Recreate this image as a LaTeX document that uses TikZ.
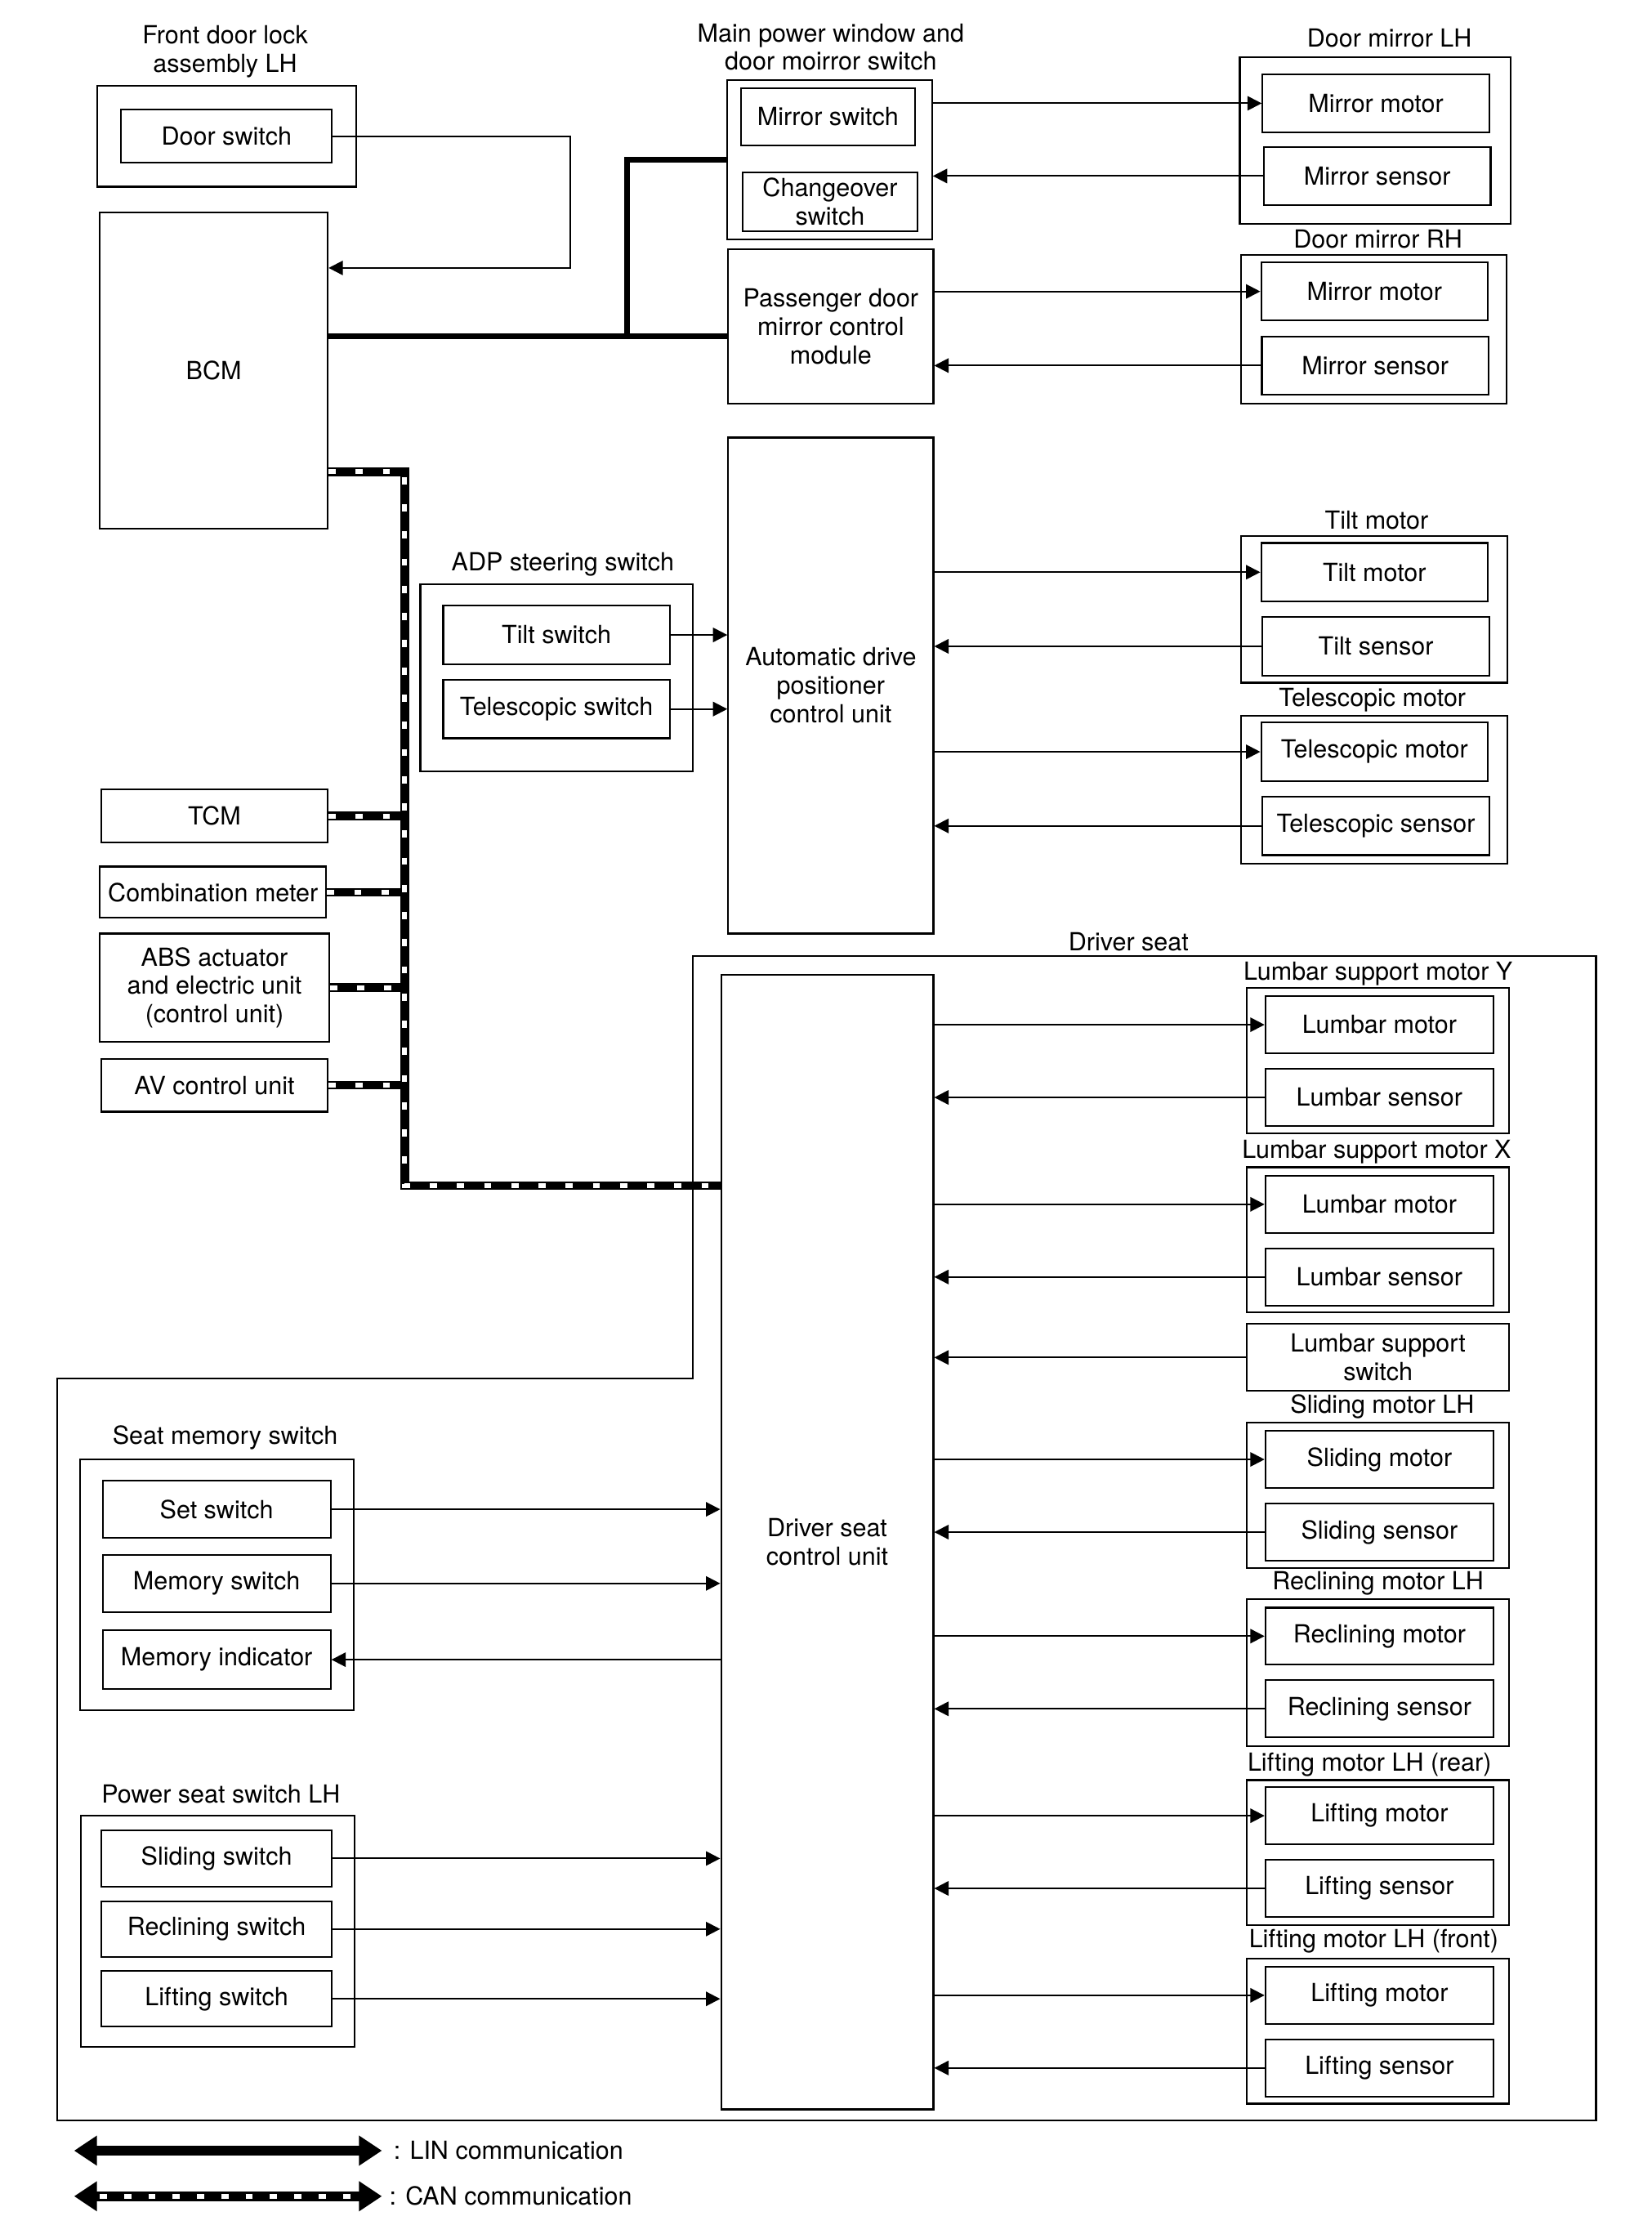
\documentclass[tikz,border=0pt]{standalone}
\usepackage{fontspec}
\setmainfont{TeX Gyre Heros}
\usetikzlibrary{arrows.meta, positioning, calc}

\newcommand{\diagfont}{\fontsize{17.5}{20}\selectfont}

\tikzset{
    blk/.style={rectangle, draw, line width=1.2pt, inner sep=0pt, align=center, font=\diagfont},
    grp/.style={rectangle, draw, line width=1.2pt, inner sep=0pt},
    unitbox/.style={blk, minimum width=159pt, minimum height=41pt},
    seatbox/.style={blk, minimum width=160pt, minimum height=40pt},
    seatgrp/.style={grp, minimum width=184pt, minimum height=102pt},
    ttl/.style={inner sep=0pt, align=center, font=\diagfont},
    wire/.style={line width=1.2pt},
    sig/.style={line width=1.2pt, -{Triangle[length=10pt,width=10pt]}},
    linbus/.style={line width=4.2pt},
    can/.style={draw=white, line width=3.4pt, dash pattern=on 5pt off 14pt,
                preaction={draw=black, line width=6pt, solid}},
}

\begin{document}
\begin{tikzpicture}[x=1pt, y=-1pt]
    \useasboundingbox (0,0) rectangle (1155,1562);
    \begin{scope}[scale=0.9965, transform shape]

    % front door lock and BCM
    \node[ttl] (fdlT) at (158,36) {Front door lock\\assembly LH};
    \node[grp, minimum width=182pt, minimum height=71pt] (fdl) at (159,95.5) {};
    \node[blk, minimum width=148pt, minimum height=37pt] (dsw) at (159,95.5) {Door switch};
    \node[blk, minimum width=160pt, minimum height=222pt] (bcm) at (150,260) {BCM};

    % main power window switch and passenger module
    \node[ttl] (mpwT) at (583,33) {Main power window and\\door moirror switch};
    \node[grp, minimum width=144pt, minimum height=112pt] (mpw) at (582,112) {};
    \node[blk, minimum width=122pt, minimum height=40pt] (msw) at (581,82) {Mirror switch};
    \node[blk, minimum width=123pt, minimum height=41pt] (cosw) at (582.5,141.5) {Changeover\\switch};
    \node[blk, minimum width=144pt, minimum height=108pt] (pdm) at (583,229) {Passenger door\\mirror control\\module};

    % door mirrors
    \node[ttl] (dmlT) at (975,27) {Door mirror LH};
    \node[grp, minimum width=190pt, minimum height=117pt] (dml) at (965,98.5) {};
    \node[unitbox] (dmlmot) at (965.5,72.5) {Mirror motor};
    \node[unitbox] (dmlsen) at (966.5,123.5) {Mirror sensor};
    \node[ttl] (dmrT) at (967,168) {Door mirror RH};
    \node[grp, minimum width=186pt, minimum height=104pt] (dmr) at (964,231) {};
    \node[unitbox] (dmrmot) at (964.5,204.5) {Mirror motor};
    \node[unitbox] (dmrsen) at (965,256.5) {Mirror sensor};

    % automatic drive positioner
    \node[blk, minimum width=144pt, minimum height=348pt] (adp) at (583,481) {Automatic drive\\positioner\\control unit};
    \node[ttl] (adsT) at (395,396) {ADP steering switch};
    \node[grp, minimum width=191pt, minimum height=131pt] (ads) at (390.5,475.5) {};
    \node[unitbox] (tsw) at (390.5,445.5) {Tilt switch};
    \node[unitbox] (tesw) at (390.5,497.5) {Telescopic switch};

    \node[ttl] (tmT) at (966,365) {Tilt motor};
    \node[grp, minimum width=187pt, minimum height=103pt] (tm) at (964.5,427.5) {};
    \node[unitbox] (tmot) at (964.5,401.5) {Tilt motor};
    \node[unitbox] (tsen) at (965.5,453.5) {Tilt sensor};
    \node[ttl] (tlmT) at (963,491) {Telescopic motor};
    \node[grp, minimum width=187pt, minimum height=104pt] (tlm) at (964.5,554) {};
    \node[unitbox] (tlmot) at (964.5,527.5) {Telescopic motor};
    \node[unitbox] (tlsen) at (965.5,579.5) {Telescopic sensor};

    % CAN units
    \node[blk, minimum width=159pt, minimum height=37pt] (tcm) at (150.5,572.5) {TCM};
    \node[blk, minimum width=159pt, minimum height=36pt] (cmb) at (149.5,626) {Combination meter};
    \node[blk, minimum width=161pt, minimum height=76pt] (abs) at (150.5,693) {ABS actuator\\and electric unit\\(control unit)};
    \node[blk, minimum width=159pt, minimum height=37pt] (avc) at (150.5,761.5) {AV control unit};

    % driver seat
    \node[ttl] (dsT) at (792,661) {Driver seat};
    \draw[wire] (486,671) -- (1120,671) -- (1120,1488) -- (40,1488) -- (40,967) -- (486,967) -- cycle;
    \node[blk, minimum width=149pt, minimum height=796pt] (dscu) at (580.5,1082) {Driver seat\\control unit};

    \node[ttl] (lyT) at (967,683) {Lumbar support motor Y};
    \node[seatgrp] (ly) at (967,744) {};
    \node[seatbox] (lymot) at (968,719) {Lumbar motor};
    \node[seatbox] (lysen) at (968,770) {Lumbar sensor};
    \node[ttl] (lxT) at (966,808) {Lumbar support motor X};
    \node[seatgrp] (lx) at (967,870) {};
    \node[seatbox] (lxmot) at (968,845) {Lumbar motor};
    \node[seatbox] (lxsen) at (968,896) {Lumbar sensor};
    \node[blk, minimum width=184pt, minimum height=47pt] (lss) at (967,952.5) {Lumbar support\\switch};
    \node[ttl] (slT) at (970,987) {Sliding motor LH};
    \node[seatgrp] (sl) at (967,1049) {};
    \node[seatbox] (slmot) at (968,1024) {Sliding motor};
    \node[seatbox] (slsen) at (968,1075) {Sliding sensor};
    \node[ttl] (rcT) at (967,1111) {Reclining motor LH};
    \node[seatgrp, minimum height=103pt] (rc) at (967,1173.5) {};
    \node[seatbox] (rcmot) at (968,1148) {Reclining motor};
    \node[seatbox] (rcsen) at (968,1199) {Reclining sensor};
    \node[ttl] (lrT) at (961,1238) {Lifting motor LH (rear)};
    \node[seatgrp] (lr) at (967,1300) {};
    \node[seatbox] (lrmot) at (968,1274) {Lifting motor};
    \node[seatbox] (lrsen) at (968,1325) {Lifting sensor};
    \node[ttl] (lfT) at (964,1362) {Lifting motor LH (front)};
    \node[seatgrp] (lf) at (967,1425) {};
    \node[seatbox] (lfmot) at (968,1400) {Lifting motor};
    \node[seatbox] (lfsen) at (968,1451) {Lifting sensor};

    % seat switches
    \node[ttl] (smsT) at (158,1009) {Seat memory switch};
    \node[grp, minimum width=192pt, minimum height=176pt] (sms) at (152,1112) {};
    \node[seatbox] (setsw) at (152,1059) {Set switch};
    \node[seatbox] (memsw) at (152,1111) {Memory switch};
    \node[seatbox, minimum height=41pt] (memind) at (152,1164.5) {Memory indicator};
    \node[ttl] (pssT) at (155,1259) {Power seat switch LH};
    \node[grp, minimum width=192pt, minimum height=162pt] (pss) at (153,1355) {};
    \node[seatbox, minimum width=162pt] (slsw) at (152,1304) {Sliding switch};
    \node[seatbox, minimum width=162pt, minimum height=39pt] (rcsw) at (152,1353.5) {Reclining switch};
    \node[seatbox, minimum width=162pt, minimum height=39pt] (lfsw) at (152,1402.5) {Lifting switch};

    % signal lines
    \coordinate (dsbend) at (400,188);
    \draw[sig] (dsw.east) -| (dsbend) -- (dsbend -| bcm.east);
    \draw[sig] (mpw.east |- dmlmot.west) -- (dmlmot.west);
    \draw[sig] (dmlsen.west) -- (dmlsen.west -| mpw.east);
    \draw[sig] (pdm.east |- dmrmot.west) -- (dmrmot.west);
    \draw[sig] (dmrsen.west) -- (dmrsen.west -| pdm.east);
    \draw[sig] (tsw.east) -- (tsw.east -| adp.west);
    \draw[sig] (tesw.east) -- (tesw.east -| adp.west);
    \draw[sig] (adp.east |- tmot.west) -- (tmot.west);
    \draw[sig] (tsen.west) -- (tsen.west -| adp.east);
    \draw[sig] (adp.east |- tlmot.west) -- (tlmot.west);
    \draw[sig] (tlsen.west) -- (tlsen.west -| adp.east);

    \draw[sig] (dscu.east |- lymot.west) -- (lymot.west);
    \draw[sig] (lysen.west) -- (lysen.west -| dscu.east);
    \draw[sig] (dscu.east |- lxmot.west) -- (lxmot.west);
    \draw[sig] (lxsen.west) -- (lxsen.west -| dscu.east);
    \draw[sig] (lss.west) -- (lss.west -| dscu.east);
    \draw[sig] (dscu.east |- slmot.west) -- (slmot.west);
    \draw[sig] (slsen.west) -- (slsen.west -| dscu.east);
    \draw[sig] (dscu.east |- rcmot.west) -- (rcmot.west);
    \draw[sig] (rcsen.west) -- (rcsen.west -| dscu.east);
    \draw[sig] (dscu.east |- lrmot.west) -- (lrmot.west);
    \draw[sig] (lrsen.west) -- (lrsen.west -| dscu.east);
    \draw[sig] (dscu.east |- lfmot.west) -- (lfmot.west);
    \draw[sig] (lfsen.west) -- (lfsen.west -| dscu.east);

    \draw[sig] (setsw.east) -- (setsw.east -| dscu.west);
    \draw[sig] (memsw.east) -- (memsw.east -| dscu.west);
    \draw[sig] (dscu.west |- memind.east) -- (memind.east);
    \draw[sig] (slsw.east) -- (slsw.east -| dscu.west);
    \draw[sig] (rcsw.east) -- (rcsw.east -| dscu.west);
    \draw[sig] (lfsw.east) -- (lfsw.east -| dscu.west);

    % LIN
    \coordinate (linJ) at (440,236);
    \draw[linbus] (linJ -| bcm.east) -- (linJ -| pdm.west);
    \draw[linbus] (linJ) |- (mpw.west);

    % CAN
    \coordinate (canTop) at (284,331);
    \coordinate (canBot) at (284,832);
    \draw[can] (tcm.east) -- (tcm.east -| canTop);
    \draw[can] (cmb.east) -- (cmb.east -| canTop);
    \draw[can] (abs.east) -- (abs.east -| canTop);
    \draw[can] (avc.east) -- (avc.east -| canTop);
    \draw[can] (bcm.east |- canTop) -- (canTop) -- (canBot) -- (canBot -| dscu.west);

    % legend
    \coordinate (linA) at (52,1509);
    \coordinate (linB) at (268,1509);
    \draw[line width=6.5pt, {Triangle[length=16pt,width=20pt]}-{Triangle[length=16pt,width=20pt]}] (linA) -- (linB);
    \node[ttl, anchor=west] (linLbl) at (276,1509) {: LIN communication};
    \coordinate (canA) at (52,1541);
    \coordinate (canB) at (268,1541);
    \draw[line width=6.5pt, {Triangle[length=16pt,width=20pt]}-{Triangle[length=16pt,width=20pt]}] (canA) -- (canB);
    \draw[draw=white, line width=3.6pt, dash pattern=on 5pt off 12pt, shorten <=18pt, shorten >=16pt] (canA) -- (canB);
    \node[ttl, anchor=west] (canLbl) at (273,1541) {: CAN communication};
    \end{scope}
\end{tikzpicture}
\end{document}
